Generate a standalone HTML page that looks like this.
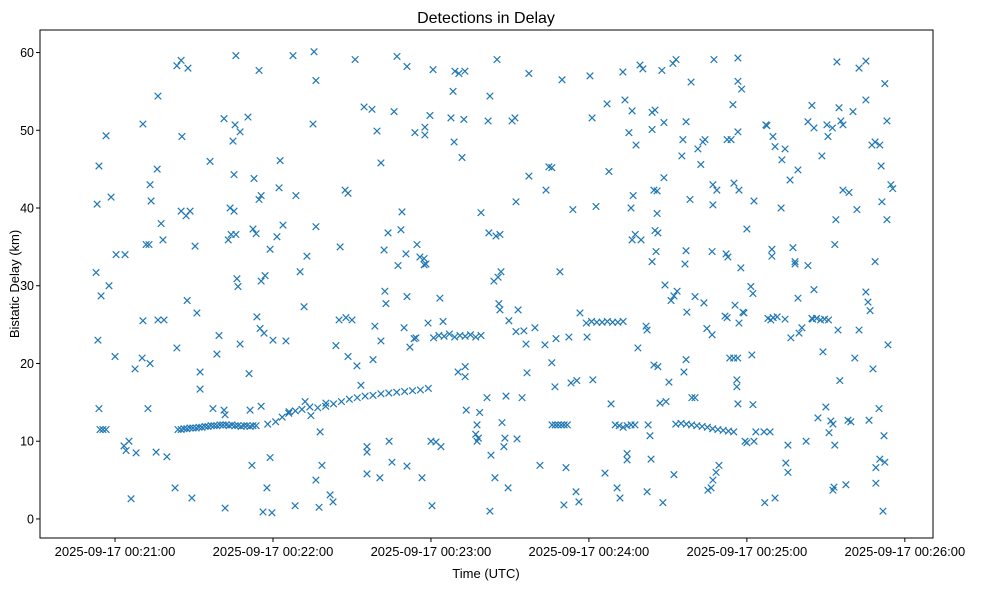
<!DOCTYPE html>
<html><head><meta charset="utf-8"><style>
body{margin:0;background:#fff;}
svg{display:block;font-family:"Liberation Sans","DejaVu Sans",sans-serif;}
</style></head><body>
<svg id="chart" width="986" height="590" xmlns="http://www.w3.org/2000/svg">
<rect width="986" height="590" fill="#fff"/>
<text x="486" y="23" text-anchor="middle" font-size="16">Detections in Delay</text>
<text x="486" y="578" text-anchor="middle" font-size="13">Time (UTC)</text>
<text transform="translate(19,284) rotate(-90)" text-anchor="middle" font-size="13">Bistatic Delay (km)</text>
<g id="marks"></g>
<g id="axes"></g>
</svg>
<script>
// seconds after 2025-09-17 00:21:00
const times = [
-7.2,-6.8,-6.1,-6.5,-6.1,-5.3,-5.7,-4.6,-3.4,-3.4,-2.3,-1.5,0,0.4,3.8,3.4,4.2,5.3,6.1,7.6,8.0,10.3,10.6,10.6,11.8,12.9,12.5,13.3,13.7,13.3,16.0,16.3,15.6,16.3,18.6,17.5,18.2,19.7,22.8,23.5,23.5,25.1,25.1,27.0,28.5,25.4,27.7,27.4,29.2,30.4,31.1,32.3,32.3,
23.9,25.1,26.2,27.3,28.5,29.6,30.8,31.9,33.0,34.2,35.3,36.5,37.6,38.7,39.9,41.0,42.2,43.3,44.4,45.6,46.7,47.9,49.0,50.1,51.3,52.4,53.6,
36.1,37.2,38.7,39.5,41.4,41.8,41.4,41.8,43.0,43.7,45.2,44.1,45.9,44.8,45.6,47.5,45.9,45.2,46.3,46.7,47.5,50.5,50.9,51.3,52.0,52.8,52.4,53.6,53.9,54.7,54.7,55.5,55.5,57.0,55.5,55.1,56.6,56.2,59.6,57.7,58.9,60.0,58.9,61.5,62.3,62.7,63.8,64.9,66.1,67.6,68.4,68.7,70.3,71.8,72.2,72.9,74.4,75.2,75.6,76.3,76.3,76.3,77.5,77.9,78.6,80.1,
58,61,63.5,66,68.5,71,74,77,80,83,86,89,92,95,98,101,104,107,110,113,116,119,
81.7,82.8,83.9,85.1,85.5,87.4,88.5,88.5,87.7,90.0,91.2,91.9,93.4,94.6,95.7,95.7,95.7,97.6,98.0,98.7,99.5,100.6,101.0,101.0,102.2,102.5,102.9,103.7,104.1,105.2,106.0,107.1,107.5,108.6,109.0,109.8,110.5,110.9,110.9,110.9,112.0,113.6,114.3,113.9,114.7,115.8,117.4,117.4,118.1,116.6,117.7,117.7,118.9,119.6,120.0,120.4,120.8,121.9,123.4,123.8,124.6,
121,123,125,127,129,131,133,135,137,139,
127.6,128.4,128.8,129.1,130.6,132.9,130.3,131.8,132.5,133,133,133.4,137.5,137,138,137.5,138.5,139.0,141.7,142.4,142.4,141.3,142.0,144.7,146.2,142.8,143.9,145.5,146.6,144.3,145.1,145.8,146.2,147.0,147.7,148.1,148.5,149.3,149.6,150.8,151.9,152.3,153.1,152.3,152.7,154.6,155.3,156.1,156.5,157.2,157.2,159.5,161.4,163.3,163.7,164.8,165.9,
166,167.2,168.3,169.5,170.6,171.8,
165.9,167.1,167.5,169.0,169.8,170.5,171.3,172.4,173.2,173.9,175.1,176.2,175.4,176.6,179.3,180.4,181.2,181.5,182.7,
179,181,183,185,187,189,191,193,
186.1,186.9,187.6,188.4,190.7,
190,191.5,193,194.5,196,197.5,
191.8,192.9,193.7,194.5,194.5,195.2,196.4,196.0,196.8,197.6,196.4,197.9,198.6,199.4,200.5,199.8,201.7,202.1,202.1,202.5,203.2,204.0,205.1,204.0,204.0,203.6,204.7,205.9,205.1,206.2,204.7,206.2,205.9,205.5,207.0,207.7,208.5,208.1,208.5,208.9,209.3,210.4,211.2,212.3,213.5,211.9,213.1,212.3,215.3,215.7,216.1,216.9,216.5,216.9,216.9,217.2,218.4,218.8,219.1,220.3,220.3,223.7,221.4,223.3,224.1,222.5,224.8,225.2,226.4,227.1,227.5,227.1,226.8,226.8,227.1,228.6,228.3,229.4,
213,215,217,219,221,223,225,227,229,231,233,235,
231.7,232.5,232.1,232.8,232.5,234.0,233.5,235,236.5,238,234.7,235.1,235.5,236.2,236.2,236.6,236.6,236.6,236.6,237.0,237.0,237.7,238.5,238.9,240,239.3,240.0,241.5,242.3,242.3,241.9,242.7,242.7,243.4,246.5,248.8,250.7,246.8,249.5,247.2,247.6,249.1,248.0,250,251.5,253,249.5,249.9,250.7,253.3,254.5,254.5,254.8,255.6,255.6,256.4,256.7,257.5,258.3,258.3,259.4,259.4,259.8,260.9,263.2,262.5,263.2,264.7,265.5,264.7,
265,266.5,268,269.5,271,272.5,
265.5,268.5,267.0,268.9,270.0,270.4,270.8,271.2,271.9,272.7,273.4,272.7,273.1,274.2,273.4,273.8,274.6,275.0,275.3,275.7,276.5,276.5,277.6,278.4,278.8,279.5,280.3,281.0,281.8,282.6,282.6,285.2,285.2,285.2,286.0,286.4,286.8,287.9,287.5,288.7,291.0,288.7,289.0,289.0,290.2,290.5,290.5,291.3,291.7,292.1,292.4,292.4,293.2,293.2,293.6,294.7,295.4,295.1
];
const delays = [
31.7,40.5,45.4,23.0,14.2,28.7,11.5,11.5,11.5,49.3,30.0,41.4,20.9,34.0,34.0,9.4,8.8,10.0,2.6,19.3,8.5,20.7,50.8,25.5,35.3,35.3,14.2,43.0,40.9,20.0,45.0,54.4,8.6,25.6,25.6,38.0,35.9,8.0,4.0,22.0,58.3,59.0,39.6,39.0,39.6,49.2,58.0,28.1,2.7,35.1,26.5,18.9,16.7,
11.5,11.5,11.6,11.6,11.7,11.7,11.7,11.8,11.8,11.9,11.9,12.0,12.0,12.0,12.1,12.1,12.1,12.0,12.1,12.0,12.0,11.9,12.0,12.0,11.9,12.0,12.0,
46.0,14.2,21.2,23.6,51.5,1.4,14.0,13.4,35.9,40.0,39.6,36.6,36.6,48.6,50.7,49.8,59.6,44.3,30.9,29.9,22.5,51.7,18.7,14.0,6.9,43.8,37.3,36.7,26.0,57.7,41.1,41.6,30.6,31.3,14.5,24.5,23.9,0.9,0.8,4.0,7.9,23.0,34.7,36.3,42.6,46.1,37.8,22.9,13.8,59.6,1.7,41.6,31.8,27.3,15.1,33.8,13.3,50.8,60.1,56.4,37.6,5.0,1.5,11.2,6.9,14.9,
12.2,12.5,13.1,13.6,13.9,14.1,14.4,14.3,14.5,14.8,15.1,15.4,15.6,15.8,15.9,16.1,16.2,16.3,16.4,16.5,16.6,16.8,
3.1,2.2,22.3,25.6,35.0,42.3,41.9,20.9,25.9,25.6,59.1,19.7,17.2,53.0,9.3,8.6,5.8,52.7,20.5,24.8,49.9,5.3,45.8,22.9,34.6,29.3,27.7,36.8,10.0,7.3,52.4,59.5,32.6,37.2,39.5,24.6,34.1,58.2,28.6,6.8,22.1,23.2,23.3,49.7,35.3,33.7,32.7,33.5,32.8,5.3,49.4,50.4,25.2,51.9,10.0,1.7,57.8,9.9,28.4,9.3,25.4,
23.3,23.6,23.5,23.8,23.4,23.6,23.5,23.7,23.4,23.6,
51.6,55.0,48.5,57.6,57.3,57.6,18.9,46.5,51.4,19.6,18.3,14.0,12.1,10.9,10.4,10.0,13.7,39.4,51.2,54.4,1.0,15.6,36.8,36.4,36.6,8.2,30.6,31.1,31.8,5.3,59.1,27.7,26.9,12.4,9.3,10.4,15.8,4.0,25.5,51.2,51.6,24.1,26.9,40.8,10.3,15.6,24.2,22.5,18.8,57.3,44.1,24.6,6.9,22.4,42.3,45.3,45.2,
12.1,12.1,12.1,12.1,12.1,12.1,
20.1,17.0,23.2,31.8,56.5,1.8,6.6,23.4,17.5,39.8,3.5,2.2,17.8,26.5,23.4,57.0,51.6,17.9,40.2,
25.2,25.4,25.3,25.3,25.4,25.3,25.3,25.4,
5.9,53.4,44.7,14.8,4.0,
12.1,12.0,11.8,12.0,12.1,12.1,
2.7,57.5,53.9,7.6,8.4,49.7,52.5,40.0,41.6,36.6,35.9,48.1,22.0,58.4,57.9,35.9,24.8,24.3,3.5,12.1,10.7,52.3,52.6,50.1,33.1,7.7,42.3,42.2,37.1,36.8,19.8,19.6,39.3,34.4,14.9,57.7,51.0,2.1,43.9,30.1,15.1,17.6,28.1,28.7,29.3,58.6,59.1,5.7,46.7,48.8,18.9,20.5,32.8,34.5,51.1,26.6,41.1,56.2,15.6,15.6,28.6,27.8,47.6,48.5,48.8,45.6,24.5,3.7,4.0,5.0,59.1,43.0,23.7,34.4,40.4,42.3,6.0,6.9,
12.2,12.3,12.2,12.1,12.0,11.9,11.8,11.6,11.5,11.4,11.3,11.2,
26.1,25.9,34.1,33.7,48.8,48.8,20.7,20.7,20.7,55.3,53.3,43.2,27.5,17.9,17.0,56.3,14.8,49.8,59.3,25.2,42.3,32.3,26.6,26.5,9.8,10.0,37.3,29.9,29.0,14.7,21.1,10.0,40.9,11.2,11.2,11.2,2.7,2.1,33.8,50.7,50.6,25.6,25.8,25.9,26.0,40.0,34.7,49.2,47.9,46.2,47.6,25.7,7.2,6.0,9.5,43.6,23.3,34.9,32.8,33.1,44.9,28.4,23.9,24.6,32.6,10.0,51.1,53.2,29.5,
25.8,25.7,25.8,25.6,25.7,25.6,
50.3,50.3,46.7,13.0,21.5,14.4,50.7,49.2,11.1,12.6,12.2,9.5,3.7,4.1,58.8,35.3,38.5,24.3,52.9,17.8,51.2,42.3,50.7,4.4,12.7,42.0,12.5,52.4,20.7,39.8,24.3,58.0,58.9,53.9,29.2,27.9,12.7,26.8,19.3,48.1,48.5,45.4,33.1,6.6,4.6,14.2,7.7,48.1,40.8,1.0,10.7,7.3,56.0,51.2,38.5,22.4,43.0,42.5
];
const yTicks = [0,10,20,30,40,50,60];
const xTickSeconds = [0,60,120,180,240,300];
const xTickLabels = ["2025-09-17 00:21:00","2025-09-17 00:22:00","2025-09-17 00:23:00","2025-09-17 00:24:00","2025-09-17 00:25:00","2025-09-17 00:26:00"];

const L=40,R=933,T=30,B=538;
const xMin=-28.5,xMax=310.7,yMin=-2.45,yMax=62.9;
const sx=s=>L+(s-xMin)/(xMax-xMin)*(R-L);
const sy=v=>B-(v-yMin)/(yMax-yMin)*(B-T);
const NS="http://www.w3.org/2000/svg";
function mk(tag,attrs,parent){const e=document.createElementNS(NS,tag);for(const k in attrs)e.setAttribute(k,attrs[k]);parent.appendChild(e);return e;}
const marks=document.getElementById('marks');
const n=Math.min(times.length,delays.length);
for(let i=0;i<n;i++){
  const x=sx(times[i]),y=sy(delays[i]),r=3.3;
  const p=mk('path',{d:`M${x-r},${y-r}L${x+r},${y+r}M${x-r},${y+r}L${x+r},${y-r}`,stroke:'#1f77b4','stroke-width':1.2,fill:'none'},marks);
  
  
}
const axes=document.getElementById('axes');
const frame=mk('rect',{x:L,y:T,width:R-L,height:B-T,fill:'none',stroke:'#000','stroke-width':1},axes);


yTicks.forEach(v=>{
  const y=sy(v);
  mk('line',{x1:L-4,x2:L,y1:y,y2:y,stroke:'#000'},axes);
  const t=mk('text',{x:L-6,y:y+4.5,'text-anchor':'end','font-size':12.5},axes);
  t.textContent=v;
  
  
});
xTickSeconds.forEach((s,i)=>{
  const x=sx(s);
  mk('line',{x1:x,x2:x,y1:B,y2:B+4,stroke:'#000'},axes);
  const t=mk('text',{x:x,y:B+18,'text-anchor':'middle','font-size':13},axes);
  t.textContent=xTickLabels[i];
  
  
});
</script>
</body></html>
